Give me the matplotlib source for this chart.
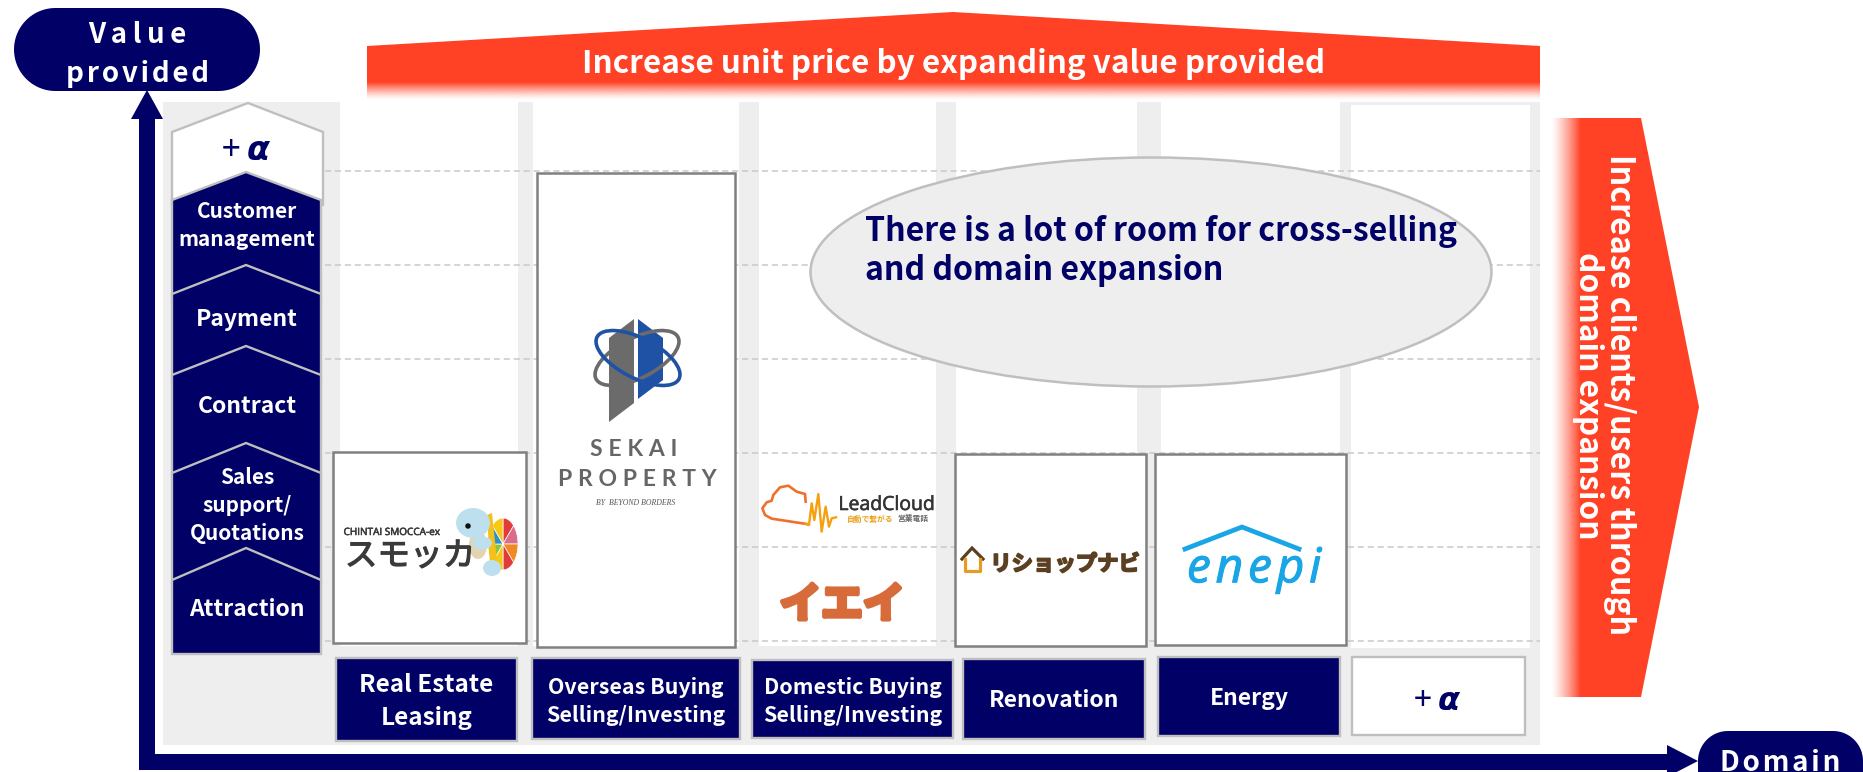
import numpy as np
import matplotlib
matplotlib.use("Agg")
import matplotlib.pyplot as plt
from matplotlib.patches import Polygon, Rectangle, Ellipse
import matplotlib.patheffects as pe

# ---- text content ----
title_top = "Increase unit price by expanding value provided"
title_right = ["Increase clients/users through", "domain expansion"]
bubble_lines = ["There is a lot of room for cross-selling", "and domain expansion"]
plus_alpha = r"+ $\boldsymbol{\alpha}$"
value_steps = [["Customer", "management"], ["Payment"], ["Contract"],
               ["Sales", "support/", "Quotations"], ["Attraction"]]
domains = [["Real Estate", "Leasing"], ["Overseas Buying", "Selling/Investing"],
           ["Domestic Buying", "Selling/Investing"], ["Renovation"], ["Energy"]]

# ---- colours ----
NAVY = "#000066"
RED = "#FF4125"
BG = "#EEEEEE"
EDGE = "#BFBFBF"
BOX = "#808080"
DASH = "#C9C9C9"

plt.rcParams["font.family"] = ["Noto Sans CJK JP", "DejaVu Sans"]
plt.rcParams["mathtext.fontset"] = "dejavusans"

fig = plt.figure(figsize=(18.63, 7.72), dpi=100)
ax = fig.add_axes([0, 0, 1, 1])
ax.axis("off")


def T(x, y, s, size, color="white", weight="bold", ha="center", rot=0, **kw):
    return ax.text(x, y, s, fontsize=size, color=color, fontweight=weight, ha=ha,
                   va="center_baseline", rotation=rot, rotation_mode="anchor", zorder=kw.pop("zorder", 20), **kw)


def P(pts, fc, ec="none", lw=0, z=2, **kw):
    ax.add_patch(Polygon(pts, closed=True, fc=fc, ec=ec, lw=lw, zorder=z, joinstyle="miter", **kw))


def R(x0, y0, x1, y1, fc, ec="none", lw=0, z=2):
    ax.add_patch(Rectangle((x0, y0), x1 - x0, y1 - y0, fc=fc, ec=ec, lw=lw, zorder=z))


def pill(x0, y0, x1, y1, r, z=5):
    t = np.linspace(0, np.pi / 2, 24)
    pts = np.vstack([
        np.c_[x1 - r + r * np.cos(t), y1 - r + r * np.sin(t)],
        np.c_[x0 + r - r * np.sin(t), y1 - r + r * np.cos(t)],
        np.c_[x0 + r - r * np.cos(t), y0 + r - r * np.sin(t)],
        np.c_[x1 - r + r * np.sin(t), y0 + r - r * np.cos(t)],
    ])
    P(pts, NAVY, z=z)


def fade(extent, horizontal):
    n = 64
    rgba = np.zeros((1, n, 4) if horizontal else (n, 1, 4))
    rgba[..., :3] = matplotlib.colors.to_rgb(RED)
    a = np.linspace(0, 1, n) ** 1.3 if horizontal else np.linspace(1, 0, n) ** 1.3
    rgba[..., 3] = a.reshape(rgba.shape[:2])
    ax.imshow(rgba, extent=extent, aspect="auto", zorder=3, interpolation="bilinear", origin="upper")


# ---- background panel and columns ----
R(163, 102, 1540, 745, BG, z=1)
col_x = [(340, 518), (533, 739), (759, 936), (956, 1137), (1161, 1340), (1351, 1530)]
col_top = [102, 102, 102, 102, 102, 105]
col_bot = [646, 646, 646, 646, 646, 648]
for (a, b), t, d in zip(col_x, col_top, col_bot):
    R(a, t, b, d, "white", z=1.5)

# dashed guide lines
for y in [171, 265, 359, 453, 547, 641]:
    ax.plot([325, 1540], [y, y], color=DASH, lw=1.1, dashes=(4, 2.5), zorder=2)

# ---- red banner and arrow ----
P([(367, 46), (953, 12), (1540, 46), (1540, 82), (367, 82)], RED, z=3)
fade((367, 1540, 100, 82), False)
T(954, 60, title_top, 22.6)

P([(1580, 118), (1641, 118), (1699, 407), (1641, 697), (1580, 697)], RED, z=3)
fade((1551, 1580.5, 697, 118), True)
T(1623, 395, title_right[0], 23.2, rot=-90)
T(1592, 396, title_right[1], 22.8, rot=-90)

# ---- axes arrows ----
R(139, 115, 155, 770, NAVY, z=4)
P([(131, 119), (147, 90), (163, 119)], NAVY, z=4)
R(139, 754, 1670, 770, NAVY, z=4)
P([(1667, 745), (1698, 761), (1667, 777)], NAVY, z=4)

pill(14, 8, 260, 91, 41.5)
pill(1698, 731, 1863, 815, 30)
T(137, 32, "V\u2009a\u2009l\u2009u\u2009e", 20)
T(137, 71, "p\u200ar\u200ao\u200av\u200ai\u200ad\u200ae\u200ad", 20)
T(1780, 760, "D\u200ao\u200am\u200aa\u200ai\u200an", 20)

# ---- value chain chevrons (top to bottom, lower ones overlap) ----
L, Rr, AX = 172, 321, 246
apex = [172, 265, 346, 443, 548]
shoulder = [200, 294, 375, 473, 580]
bottoms = [300, 380, 478, 585, 654]
P([(172, 132), (248, 103), (323, 132), (323, 205), (172, 205)], "white", ec=EDGE, lw=1.7, z=6)
T(247, 147, plus_alpha, 24, color=NAVY, weight="normal")
for a, s, b in zip(apex, shoulder, bottoms):
    P([(L, s), (AX, a), (Rr, s), (Rr, b), (L, b)], NAVY, ec=EDGE, lw=1.7, z=6)
ys = [[210, 238], [317], [404], [475, 503, 532], [607]]
sizes = [[15, 15], [16.5], [16.5], [15, 15, 15], [16.5]]
for lines, yy, ss in zip(value_steps, ys, sizes):
    for t, y, sz in zip(lines, yy, ss):
        T(AX + 1, y, t, sz)

# ---- logo boxes ----
for x0, y0, x1, y1 in [(333, 452, 526, 643), (537, 173, 735, 647),
                       (955, 454, 1146, 646), (1155, 454, 1346, 645)]:
    R(x0, y0, x1, y1, "white", ec=BOX, lw=1.8, z=7)

# ---- domain boxes ----
boxes = [(336, 658, 517, 741), (532, 658, 740, 739), (752, 660, 953, 738),
         (963, 659, 1145, 739), (1158, 657, 1340, 736)]
domain_y = [[683, 715], [685, 714], [686, 714], [698], [696]]
domain_sz = [[17.5, 17.5], [15.4, 15.4], [15.4, 15.4], [16.5], [16.5]]
for (x0, y0, x1, y1), lines, yy, ss in zip(boxes, domains, domain_y, domain_sz):
    R(x0, y0, x1, y1, NAVY, ec=EDGE, lw=1.7, z=7)
    for t, y, sz in zip(lines, yy, ss):
        T((x0 + x1) / 2, y, t, sz)
R(1352, 657, 1525, 735, "white", ec=EDGE, lw=1.7, z=7)
T(1438, 697, plus_alpha, 23, color=NAVY, weight="normal")

# ---- ellipse call-out ----
ax.add_patch(Ellipse((1151, 272), 681, 229, fc=BG, ec=EDGE, lw=1.8, zorder=8))
T(865, 228, bubble_lines[0], 23.1, color=NAVY, ha="left")
T(865, 267, bubble_lines[1], 23.1, color=NAVY, ha="left")

# ---- logo: Smocca ----
DK = "#3A3A3A"
T(392, 531, "CHINTAI SMOCCA-ex", 7.2, color=DK, weight="normal", family=["Open Sans", "DejaVu Sans"],
  path_effects=[pe.withStroke(linewidth=0.4, foreground=DK)])
T(410, 553, "スモッカ", 23.5, color=DK, weight="normal",
  path_effects=[pe.withStroke(linewidth=0.9, foreground=DK)])
shell_c = np.array([503, 544])
shell_cols = ["#E23B3B", "#DB6D8A", "#F08A24", "#E23B3B", "#F7C815", "#8BC540", "#2B8FD1", "#F7C815"]
for i, c in enumerate(shell_cols):
    t = np.linspace(-0.5 * np.pi + i * np.pi / 4, -0.5 * np.pi + (i + 1) * np.pi / 4, 8)
    arc = np.c_[shell_c[0] + 15 * np.cos(t), shell_c[1] + 26 * np.sin(t)]
    P(np.vstack([shell_c, arc]), c, ec="white", lw=0.5, z=9)
P([(487, 515), (492, 513), (497, 560), (490, 565)], "#F2C21A", z=9.2)
ax.add_patch(Ellipse((478, 545), 18, 28, fc="#E4D3B0", ec="none", zorder=9.3))
ax.add_patch(Ellipse((473, 523), 34, 30, fc="#BEDFEE", ec="none", zorder=9.5))
ax.add_patch(Ellipse((482, 543), 20, 13, fc="#BEDFEE", ec="none", zorder=9.5))
ax.add_patch(Ellipse((492, 568), 18, 16, fc="#BEDFEE", ec="none", zorder=9.5))
ax.add_patch(Ellipse((468, 526), 5.5, 5.5, fc="#111111", ec="none", zorder=9.6))

# ---- logo: Sekai Property ----
P([(609, 338), (634, 319), (634, 403), (609, 422)], "#6B6B6B", z=9)
P([(638, 319), (663, 338), (663, 380), (638, 399)], "#1F52A5", z=9)
ax.add_patch(Ellipse((637, 358), 92, 40, angle=-27, fc="none", ec="#6B6B6B", lw=2.6, zorder=9.1))
ax.add_patch(Ellipse((638, 358), 92, 40, angle=27, fc="none", ec="#1F52A5", lw=2.6, zorder=9.2))
GR = "#666666"
T(634, 447, "S\u2009\u2009E\u2009\u2009K\u2009\u2009A\u2009\u2009I", 16.5, color=GR, family=["Lato", "DejaVu Sans"])
T(637, 477, "P\u2009\u2009R\u2009\u2009O\u2009\u2009P\u2009\u2009E\u2009\u2009R\u2009\u2009T\u2009\u2009Y", 16.5, color=GR, family=["Lato", "DejaVu Sans"])
T(636, 502, "BY  BEYOND BORDERS", 5.6, color="#555555", weight="normal",
  family=["Liberation Serif", "DejaVu Serif"], style="italic")

# ---- logo: LeadCloud ----
cloud_px = [(155, 162), (50, 146), (30, 135), (22, 115), (35, 97), (50, 92), (55, 75), (75, 52),
            (100, 47), (125, 65), (150, 72), (152, 95)]
wave_px = [(152, 162), (162, 165), (170, 100), (178, 150), (190, 72), (200, 185), (212, 110),
           (222, 170), (230, 145), (243, 142)]
ax.plot([755 + p[0] / 3 for p in cloud_px], [470 + p[1] / 3 for p in cloud_px], color="#F0702A", lw=1.9, zorder=9)
ax.plot([755 + p[0] / 3 for p in wave_px], [470 + p[1] / 3 for p in wave_px], color="#F5A00F", lw=1.7, zorder=9)
T(887, 503, "LeadCloud", 14, color="#333333", weight="normal", family=["Open Sans", "DejaVu Sans"],
  path_effects=[pe.withStroke(linewidth=0.4, foreground="#333333")])
T(870, 518, "自動で繋がる", 5.6, color="#E9A11B")
T(913, 518, "営業電話", 5.6, color="#666666")

# ---- logo: Ieii ----
T(842, 601, "イエイ", 30, color="#D76B3A", path_effects=[pe.withStroke(linewidth=3.2, foreground="#D76B3A")])

# ---- logo: Reshop Navi ----
T(1065, 562, "リショップナビ", 15.4, color="#5A3F22",
  path_effects=[pe.withStroke(linewidth=1.3, foreground="#5A3F22")])
ax.plot([962, 972, 983], [559, 548, 559], color="#5A3F22", lw=2.3, zorder=9, solid_joinstyle="miter")
ax.plot([965, 965, 980, 980], [559, 571, 571, 559], color="#E89B22", lw=2.3, zorder=9)

# ---- logo: enepi ----
ax.plot([1185, 1242, 1299], [549, 527, 549], color="#1AA5E6", lw=3.4, zorder=9, solid_joinstyle="miter")
T(1254, 564, "e\u200an\u200ae\u200ap\u200ai", 34.5, color="#1AA5E6", weight="normal", style="italic",
  family=["Open Sans", "DejaVu Sans"], path_effects=[pe.withStroke(linewidth=0.8, foreground="#1AA5E6")])

ax.set_xlim(0, 1863)
ax.set_ylim(772, 0)
fig.savefig("out.png", dpi=100)
